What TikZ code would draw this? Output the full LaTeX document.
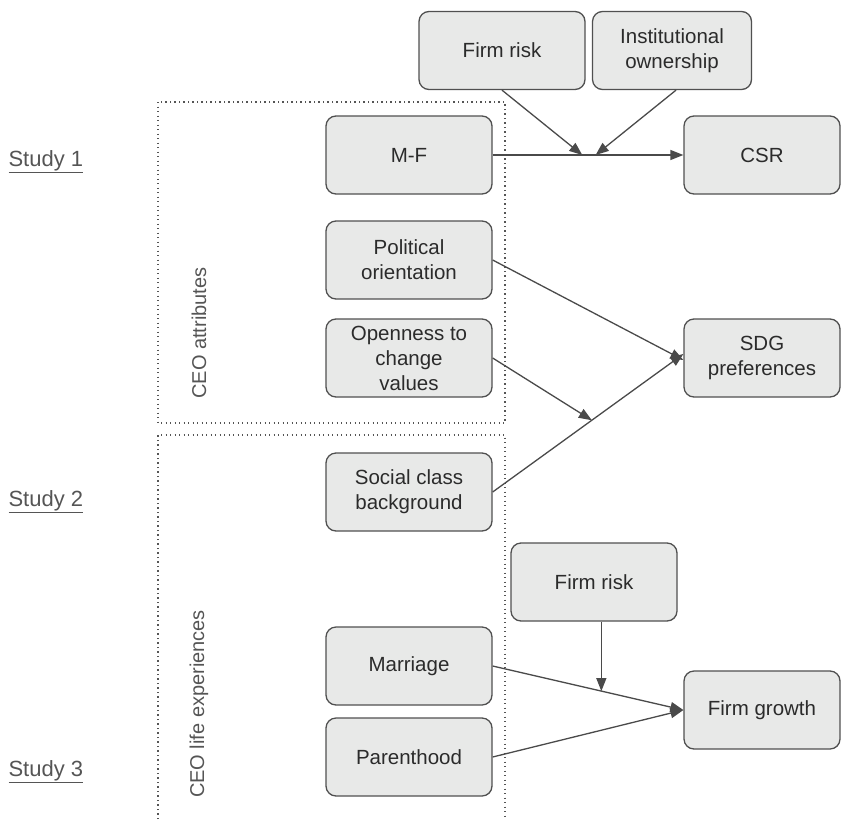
\documentclass[tikz,border=0pt]{standalone}
\usepackage{fontspec}
\setmainfont{Liberation Sans}
\usepackage{xcolor}
\usetikzlibrary{arrows.meta, calc}
\definecolor{boxfill}{HTML}{E8E9E8}
\definecolor{boxline}{HTML}{505050}
\definecolor{arrowgray}{HTML}{4A4A4A}
\definecolor{textgray}{HTML}{2B2B2B}
\definecolor{labelgray}{HTML}{555555}
\tikzstyle{varbox} = [
  rectangle, rounded corners=10pt, draw=boxline, fill=boxfill, line width=1.3pt,
  text=textgray, align=center, minimum width=166pt, minimum height=78pt,
  font=\fontsize{20.5}{25}\selectfont
]
\tikzstyle{arrow} = [-{Triangle[length=13pt, width=10pt]}, line width=1.3pt, draw=arrowgray]
\tikzstyle{groupline} = [labelgray, line width=1.3pt, dash pattern=on 1.3pt off 3.2pt]
\tikzstyle{studylabel} = [anchor=west, text=labelgray, font=\fontsize{22}{26}\selectfont]
\tikzstyle{grouplabel} = [rotate=90, text=labelgray, font=\fontsize{20}{24}\selectfont]

\begin{document}
\begin{tikzpicture}[x=1pt, y=-1pt]
  \useasboundingbox (0,0) rectangle (842,819);

  % groups
  \draw[groupline] (158,102) rectangle (505,423);
  \draw[groupline] (158,819) -- (158,435) -- (505,435) -- (505,819);
  \node[grouplabel] (attr) at (199,333) {CEO attributes};
  \node[grouplabel] (life) at (199,704) {CEO life experiences};

  \node[studylabel] (s1) at (5,162) {\underline{Study 1}};
  \node[studylabel] (s2) at (5,502) {\underline{Study 2}};
  \node[studylabel] (s3) at (5,772) {\underline{Study 3}};

  % study 1
  \node[varbox] (riskA) at (502,50.5) {Firm risk};
  \node[varbox, minimum width=159pt] (inst) at (672,50.5) {Institutional\\ownership};
  \node[varbox] (mf) at (409,155) {M-F};
  \node[varbox, minimum width=156pt] (csr) at (762,155) {CSR};

  \draw[arrow] (mf.east) -- coordinate[pos=0.47] (modA) coordinate[pos=0.54] (modB) (csr.west);
  \draw[arrow] (riskA.south) -- (modA);
  \draw[arrow] ($(inst.south)+(4,0)$) -- (modB);

  % study 2
  \node[varbox] (pol) at (409,260) {Political\\orientation};
  \node[varbox] (open) at (409,358) {Openness to\\change\\values};
  \node[varbox] (soc) at (409,492) {Social class\\background};
  \node[varbox, minimum width=156pt] (sdg) at (762,358) {SDG\\preferences};

  \draw[arrow] (pol.east) -- ([yshift=-2pt]sdg.west);
  \draw[arrow] (soc.east) -- coordinate[pos=0.52] (modC) ([yshift=4pt]sdg.west);
  \draw[arrow] (open.east) -- (modC);

  % study 3
  \node[varbox] (riskB) at (594,582) {Firm risk};
  \node[varbox] (mar) at (409,666) {Marriage};
  \node[varbox] (par) at (409,757) {Parenthood};
  \node[varbox, minimum width=156pt] (grow) at (762,710) {Firm growth};

  \draw[arrow] (mar.east) -- coordinate[pos=0.57] (modD) (grow.west);
  \draw[arrow] (par.east) -- (grow.west);
  \draw[arrow] (riskB.south -| modD) -- (modD);

\end{tikzpicture}
\end{document}
